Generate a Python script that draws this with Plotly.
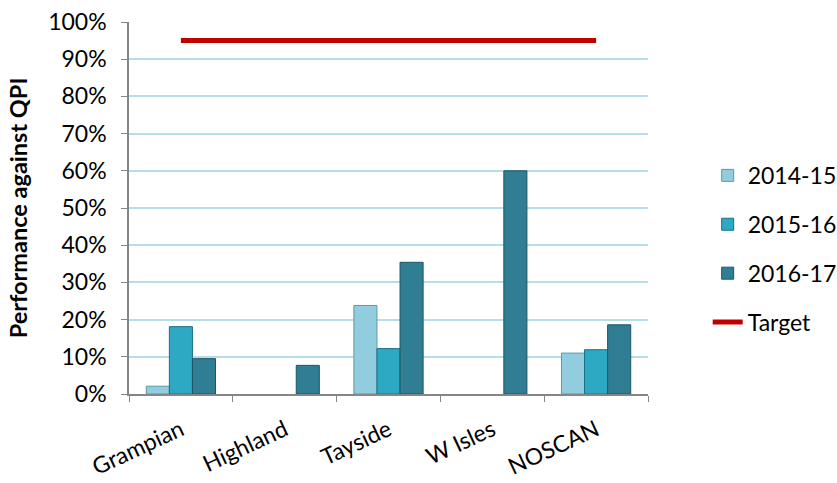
import plotly.graph_objects as go

# Health boards and performance against the QPI target, by year
boards = ["Grampian", "Highland", "Tayside", "W Isles", "NOSCAN"]
years = ["2014-15", "2015-16", "2016-17"]
perf_2014_15 = [0.021, None, 0.238, None, 0.110]
perf_2015_16 = [0.181, None, 0.122, None, 0.119]
perf_2016_17 = [0.095, 0.077, 0.354, 0.600, 0.186]
target = [0.95, 0.95, 0.95, 0.95, 0.95]

bar_fill = ["#92CDDF", "#2EA9C4", "#2F7E93"]
bar_edge = ["#5E98A8", "#1C6F82", "#1D5564"]
series = [perf_2014_15, perf_2015_16, perf_2016_17]

FONT = "Lato"
FS = 23
fig = go.Figure()

for i, (name, vals) in enumerate(zip(years, series)):
    fig.add_trace(go.Bar(
        x=boards, y=vals, name=name, legendgroup=name,
        marker=dict(color=bar_fill[i], line=dict(color=bar_edge[i], width=1)),
    ))

fig.add_trace(go.Scatter(
    x=boards, y=target, name="Target", legendgroup="Target",
    mode="lines", line=dict(color="#C00000", width=5),
))

fig.update_layout(
    width=837, height=483,
    margin=dict(l=129, r=189, t=22, b=89, autoexpand=False),
    paper_bgcolor="white", plot_bgcolor="white",
    barmode="group", bargap=0.333, bargroupgap=0,
    font=dict(family=FONT, size=FS, color="black"),
    showlegend=True,
    legend=dict(
        x=1.115, xanchor="left", y=0.39, yanchor="middle",
        traceorder="grouped", tracegroupgap=16,
        font=dict(family=FONT, size=FS, color="black"),
        bgcolor="rgba(0,0,0,0)",
    ),
)

fig.update_yaxes(
    range=[0, 1], dtick=0.1, tickformat=".0%",
    showgrid=True, gridcolor="#B7DEE8", gridwidth=1.5,
    showline=True, linecolor="#868686", linewidth=1.5,
    ticks="outside", ticklen=6, tickcolor="#868686",
    ticklabelstandoff=10, automargin=False,
    zeroline=False,
    title=dict(text="<b>Performance against QPI</b>",
               font=dict(family=FONT, size=23.5), standoff=14),
)

fig.update_xaxes(
    showline=True, linecolor="#868686", linewidth=1.5,
    ticks="outside", ticklen=6, tickcolor="#868686", tickson="boundaries",
    tickangle=-25, ticklabelstandoff=12, showgrid=False, automargin=False,
)

fig.write_html("out.html")
